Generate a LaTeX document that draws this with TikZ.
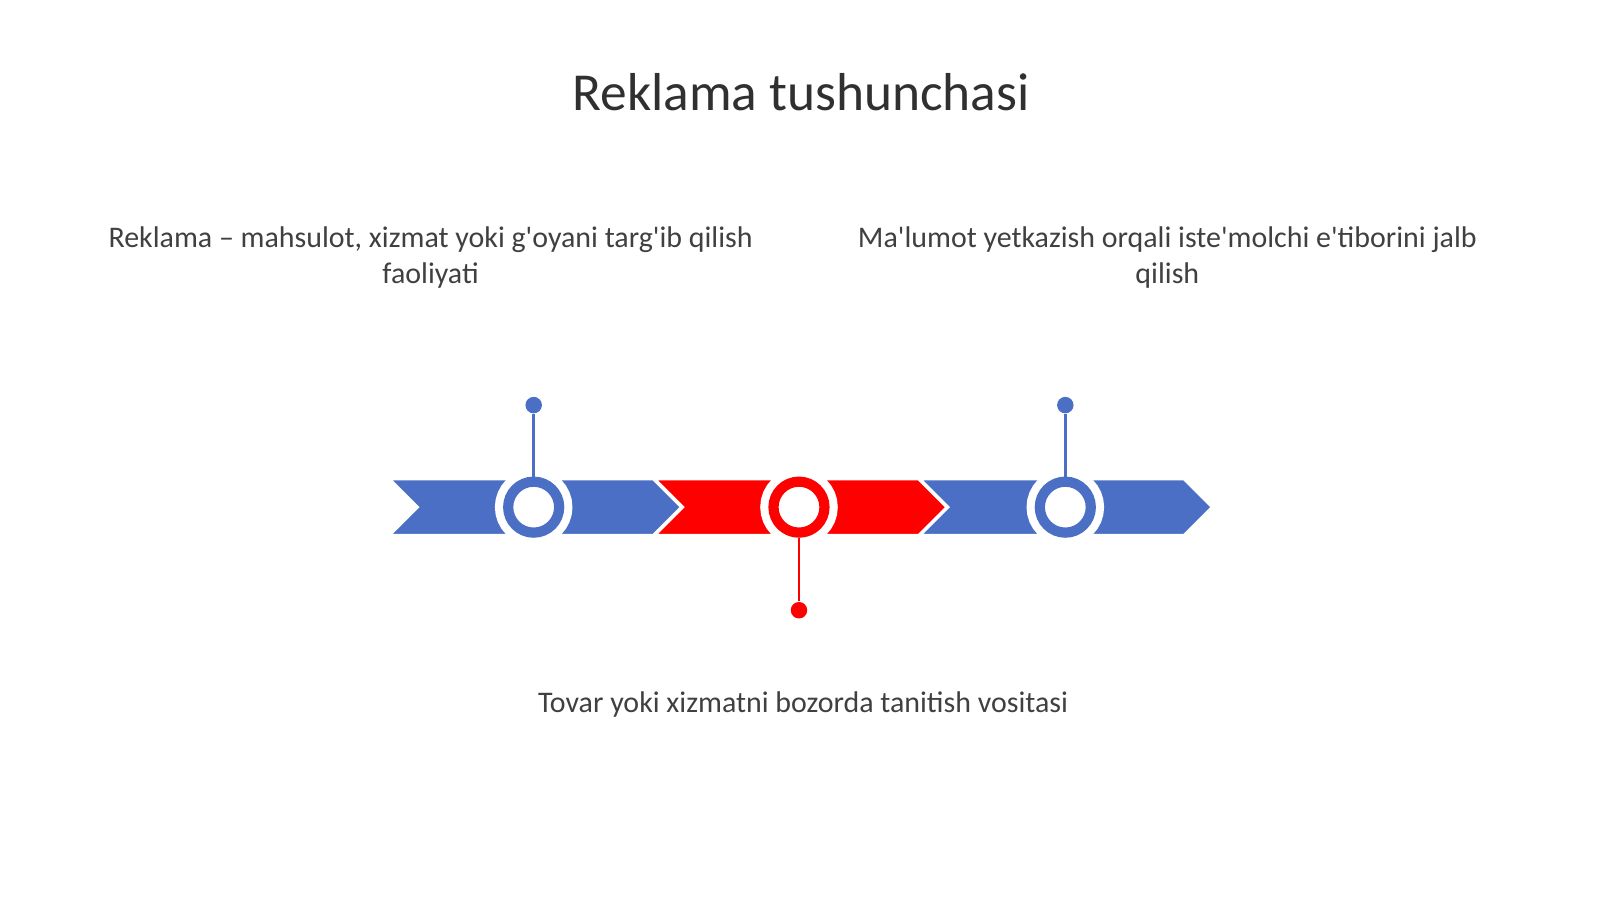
\documentclass[tikz,border=0pt]{standalone}
\usepackage{fontspec}
\setmainfont{Carlito}
\definecolor{tlblue}{HTML}{4A6FC4}
\definecolor{tlred}{HTML}{FF0000}
\definecolor{tltext}{HTML}{404040}
\newcommand{\q}{\textquotesingle}
\begin{document}
\begin{tikzpicture}[x=0.010204cm, y=-0.010204cm,
  ring/.style={circle, draw=#1, fill=white, line width=0.102cm, inner sep=0pt, minimum size=0.51cm,
    preaction={draw=white, line width=0.265cm}},
  pin/.style={circle, fill=#1, inner sep=0pt, minimum size=0.165cm},
  stick/.style={draw=#1, line width=0.026cm},
  chev/.style={fill=#1, draw=white, line width=0.015cm},
  txt/.style={text=tltext, font=\fontsize{8.52}{10.3}\selectfont, align=center}]
\useasboundingbox (0,0) rectangle (1568,881);
% titulo
\node[text=tltext!75!black, font=\fontsize{15.2}{18}\selectfont] (title) at (785,90) {Reklama tushunchasi};

% setas
\foreach \x/\c in {383/tlblue, 643/tlred, 903/tlblue}
  \path[chev=\c] (\x,470) -- (\x+257,470) -- (\x+284,497) -- (\x+257,524) -- (\x,524) -- (\x+27,497) -- cycle;

% marcos
\node[ring=tlblue] (c1) at (523,497) {};
\node[ring=tlred] (c2) at (783,497) {};
\node[ring=tlblue] (c3) at (1044,497) {};
\node[pin=tlblue] (p1) at (523,397) {};
\node[pin=tlred] (p2) at (783,598) {};
\node[pin=tlblue] (p3) at (1044,397) {};
\draw[stick=tlblue] (p1) -- (c1);
\draw[stick=tlred] (p2) -- (c2);
\draw[stick=tlblue] (p3) -- (c3);

% textos
\node[txt] (t1) at (422,252) {Reklama – mahsulot, xizmat yoki g\q oyani targ\q ib qilish\\faoliyati};
\node[txt] (t3) at (1144,252) {Ma\q lumot yetkazish orqali iste\q molchi e\q tiborini jalb\\qilish};
\node[txt] (t2) at (787,690) {Tovar yoki xizmatni bozorda tanitish vositasi};
\end{tikzpicture}
\end{document}
